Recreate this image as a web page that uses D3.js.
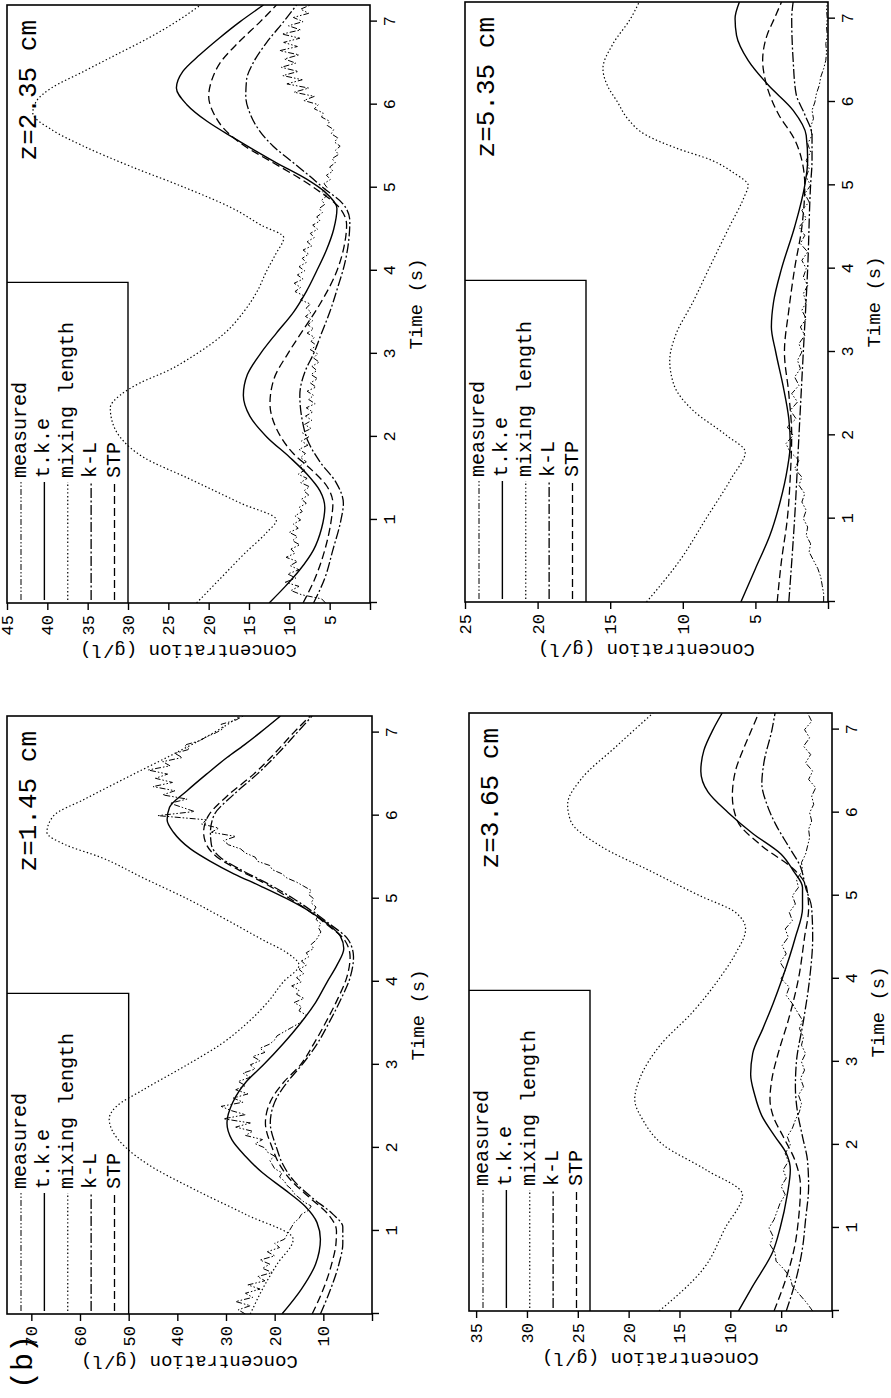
<!DOCTYPE html>
<html>
<head>
<meta charset="utf-8">
<script src="https://cdn.jsdelivr.net/npm/d3@7"></script>
<style>
  html, body { margin: 0; padding: 0; background: #fff; }
  svg { display: block; }
  text { font-family: "Liberation Mono", "Courier New", monospace; fill: #000; }
</style>
</head>
<body>
<svg id="fig" width="891" height="1398"></svg>
<script>
// ---------------------------------------------------------------------------
// Data: concentration (g/l) against time (s) at four heights z.
// Model curves are [time, concentration] pairs; measured records are sampled
// at a fixed time step.
// ---------------------------------------------------------------------------
const timeTicks = [0, 1, 2, 3, 4, 5, 6, 7];
const legendNames = ["measured", "t.k.e", "mixing length", "k-L", "STP"];

// z = 1.45 cm
const tke145 = [[0,18.5],[0.3,14.5],[0.6,11.6],[0.9,10.6],[1.1,11.3],[1.3,13.8],[1.5,18.0],[1.7,22.5],[1.9,26.0],[2.1,28.8],[2.3,29.8],[2.55,28.6],[2.8,25.8],[3.0,22.3],[3.25,18.3],[3.5,14.7],[3.75,11.6],[4.0,9.2],[4.2,7.2],[4.4,5.8],[4.55,6.5],[4.7,9.2],[4.85,12.9],[5.0,17.5],[5.15,22.8],[5.3,28.4],[5.45,33.2],[5.6,37.3],[5.8,40.8],[5.95,42.1],[6.1,41.6],[6.3,38.0],[6.5,34.0],[6.7,29.8],[6.85,26.3],[7.0,23.0],[7.2,18.8]];
const stp145 = [[0,12.3],[0.3,10.0],[0.6,8.3],[0.85,7.4],[1.0,7.3],[1.2,9.0],[1.4,12.8],[1.6,16.5],[1.8,19.0],[2.0,20.5],[2.3,21.9],[2.6,20.5],[2.8,18.0],[3.0,14.7],[3.25,12.0],[3.5,9.6],[3.8,7.0],[4.05,5.2],[4.3,4.5],[4.5,5.6],[4.7,9.5],[4.85,12.9],[5.0,16.8],[5.2,22.5],[5.35,27.5],[5.5,31.8],[5.65,34.0],[5.8,34.6],[6.0,33.6],[6.25,29.5],[6.5,24.3],[6.75,20.0],[7.0,16.1],[7.2,12.7]];
const kl145 = [[0,10.6],[0.3,8.5],[0.6,6.8],[0.85,6.0],[1.05,6.0],[1.2,8.0],[1.4,12.3],[1.6,16.0],[1.8,18.3],[2.0,19.6],[2.3,20.9],[2.6,19.6],[2.8,17.3],[3.0,14.4],[3.25,11.3],[3.5,8.9],[3.8,6.3],[4.05,4.5],[4.3,3.8],[4.5,4.8],[4.7,8.8],[4.85,12.3],[5.0,16.1],[5.2,22.0],[5.35,27.0],[5.5,31.2],[5.65,33.0],[5.8,33.2],[6.0,32.5],[6.25,28.5],[6.5,23.6],[6.75,19.3],[7.0,15.4],[7.2,12.3]];
const ml145 = [[0,25.0],[0.3,22.5],[0.6,19.5],[0.9,16.2],[1.2,26.0],[1.5,36.5],[1.8,46.0],[2.0,50.5],[2.2,53.3],[2.35,54.0],[2.5,52.5],[2.7,47.0],[3.0,38.0],[3.25,31.0],[3.5,25.7],[3.75,21.5],[4.0,18.2],[4.2,15.0],[4.35,17.5],[4.5,22.3],[4.75,30.0],[5.0,38.0],[5.25,47.0],[5.5,55.8],[5.65,63.0],[5.8,66.8],[6.0,65.4],[6.2,59.0],[6.5,49.0],[6.75,40.5],[7.0,32.5],[7.2,27.0]];
const measStep145 = 0.05;
const meas145 = [26.0,27.5,25.0,28.0,24.5,26.0,23.0,25.5,22.0,23.5,20.5,22.5,21.0,23.0,20.0,21.5,19.0,20.0,18.0,17.5,
  17.0,16.5,16.0,15.0,14.5,13.0,12.5,14.0,15.0,16.0,16.5,17.5,18.0,19.0,18.5,20.0,20.5,21.0,20.0,21.5,
  22.0,24.0,22.5,26.0,24.5,28.0,25.0,30.5,26.0,29.0,31.0,26.5,28.5,25.5,28.0,26.0,27.5,25.0,26.5,24.0,
  25.0,23.0,24.5,22.0,23.0,21.0,20.0,19.5,18.0,16.5,15.0,14.0,13.5,15.0,14.5,16.0,14.0,15.5,15.0,16.5,
  14.5,15.5,14.0,15.0,13.5,14.5,13.0,13.5,12.0,12.5,11.5,11.0,10.5,11.0,10.5,11.5,11.0,12.0,11.5,12.5,
  12.0,13.0,12.5,14.0,15.5,17.5,18.5,20.5,21.0,23.5,24.0,26.0,27.0,29.5,30.5,28.0,33.0,31.5,35.0,34.0,
  44.0,36.5,39.0,41.5,38.0,43.0,40.5,45.0,41.0,44.5,42.0,46.0,41.5,43.0,39.0,40.5,37.5,38.5,35.5,34.0,
  32.0,30.5,31.0,28.0,26.5];

// z = 2.35 cm
const tke235 = [[0,12.5],[0.2,10.5],[0.4,8.7],[0.64,7.0],[0.9,6.0],[1.15,5.6],[1.35,6.2],[1.55,7.8],[1.75,9.9],[2.0,12.8],[2.25,14.9],[2.5,15.7],[2.75,15.2],[3.0,13.6],[3.25,11.6],[3.5,9.5],[3.75,7.9],[4.0,6.6],[4.25,5.4],[4.5,4.5],[4.75,4.1],[4.95,5.6],[5.1,7.8],[5.3,11.6],[5.45,14.3],[5.6,16.9],[5.8,20.2],[6.0,22.7],[6.2,24.0],[6.4,23.2],[6.6,21.1],[6.8,18.7],[7.0,16.1],[7.2,13.2]];
const stp235 = [[0,8.3],[0.3,6.8],[0.64,5.6],[1.0,4.8],[1.2,4.6],[1.4,5.3],[1.6,7.2],[1.8,9.5],[2.1,11.6],[2.4,12.4],[2.7,11.9],[3.0,10.2],[3.3,8.2],[3.6,6.2],[4.0,4.1],[4.3,3.2],[4.55,2.9],[4.75,3.7],[4.95,6.2],[5.1,8.5],[5.3,12.0],[5.5,15.5],[5.7,18.0],[5.9,19.4],[6.1,20.0],[6.3,19.6],[6.5,18.6],[6.75,16.3],[7.0,13.6],[7.2,11.6]];
const kl235 = [[0,7.0],[0.3,5.6],[0.64,4.6],[1.0,3.6],[1.2,3.3],[1.45,4.2],[1.7,6.2],[1.95,7.7],[2.2,8.4],[2.5,8.7],[2.8,8.0],[3.0,7.0],[3.25,6.0],[3.5,5.0],[3.8,4.0],[4.1,3.1],[4.4,2.6],[4.6,2.5],[4.8,3.3],[5.0,5.8],[5.15,7.6],[5.3,9.5],[5.5,12.0],[5.7,13.8],[5.9,14.9],[6.1,15.4],[6.3,15.3],[6.5,14.5],[6.75,12.8],[7.0,10.7],[7.2,9.1]];
const ml235 = [[0,21.5],[0.3,18.5],[0.6,15.5],[0.85,12.8],[1.0,11.6],[1.2,16.0],[1.5,22.5],[1.75,28.0],[2.0,31.0],[2.2,32.0],[2.35,32.2],[2.5,31.0],[2.65,28.5],[2.8,25.0],[3.0,21.5],[3.25,18.0],[3.5,15.7],[3.75,14.0],[4.0,12.8],[4.2,11.7],[4.4,10.7],[4.55,13.5],[4.75,17.0],[5.0,22.9],[5.25,29.5],[5.5,35.5],[5.7,39.5],[5.9,41.8],[6.05,41.3],[6.2,39.5],[6.4,35.5],[6.6,31.5],[6.8,27.5],[7.0,24.0],[7.2,21.0]];
const measStep235 = 0.05;
const meas235 = [5.5,6.0,8.5,9.8,8.8,10.5,9.2,10.2,8.8,9.9,9.0,10.4,9.3,9.8,8.7,9.6,9.0,10.0,8.9,9.5,
  8.6,9.3,8.4,8.8,7.9,8.5,7.6,8.2,7.5,8.6,7.8,8.9,8.1,8.7,7.9,8.6,8.0,8.8,7.7,8.5,
  7.6,8.4,7.3,8.1,7.2,8.0,7.1,7.9,6.8,7.6,7.0,7.8,6.7,7.4,6.5,7.3,6.6,7.2,6.3,7.0,
  6.5,7.4,6.6,7.3,6.9,7.8,7.0,7.7,7.1,8.0,7.3,7.9,7.4,8.6,8.2,9.3,8.6,9.4,8.3,9.0,
  8.1,8.8,7.9,8.4,7.6,8.3,7.2,7.8,6.9,7.4,6.5,7.1,6.2,6.6,5.9,6.3,5.6,6.0,5.4,5.9,
  5.3,5.7,4.9,5.4,4.6,5.0,4.3,4.7,3.9,4.3,3.7,4.4,4.0,4.8,4.5,5.3,5.0,6.0,5.8,6.9,
  6.4,8.2,6.9,9.4,7.6,10.3,8.4,10.8,8.9,11.0,9.2,10.6,8.8,11.2,9.0,10.7,8.7,10.9,8.6,10.1,
  8.3,9.5,7.6,8.6,7.4];

// z = 3.65 cm
const tke365 = [[0,9.2],[0.3,7.8],[0.72,5.8],[1.0,5.1],[1.4,4.4],[1.7,4.1],[1.9,4.5],[2.1,5.6],[2.35,6.9],[2.6,7.6],[2.85,8.0],[3.1,7.8],[3.4,6.8],[3.7,5.8],[4.0,4.9],[4.5,3.6],[4.85,2.9],[5.1,2.9],[5.3,3.8],[5.5,5.0],[5.75,7.8],[6.0,10.2],[6.25,12.2],[6.5,12.9],[6.75,12.6],[7.0,11.7],[7.2,10.8]];
const stp365 = [[0,5.7],[0.4,4.5],[0.76,3.7],[1.1,3.3],[1.5,3.1],[1.8,3.6],[2.1,4.8],[2.35,5.8],[2.55,6.1],[2.8,5.9],[3.1,5.3],[3.5,4.3],[4.0,3.3],[4.5,2.7],[4.85,2.3],[5.1,2.5],[5.3,3.6],[5.6,6.9],[5.9,9.3],[6.2,9.8],[6.5,9.5],[6.8,8.6],[7.0,7.9],[7.2,7.2]];
const kl365 = [[0,4.5],[0.4,3.5],[0.76,2.9],[1.1,2.6],[1.5,2.3],[1.8,2.4],[2.1,2.9],[2.4,3.4],[2.7,3.6],[3.0,3.5],[3.5,2.8],[4.0,2.2],[4.5,1.9],[4.85,2.0],[5.1,2.6],[5.35,3.1],[5.6,4.3],[5.85,5.5],[6.1,6.4],[6.35,6.9],[6.6,6.7],[7.0,5.9],[7.2,5.6]];
const ml365 = [[0,17.0],[0.5,12.7],[1.0,10.5],[1.4,8.8],[1.7,12.4],[2.0,16.6],[2.3,18.6],[2.55,19.4],[2.8,18.9],[3.2,16.9],[3.6,13.7],[4.0,11.1],[4.3,9.5],[4.6,8.5],[4.8,9.5],[5.0,13.0],[5.3,17.9],[5.6,22.8],[5.9,25.7],[6.1,26.0],[6.4,24.7],[6.8,21.2],[7.2,17.6]];
const measStep365 = 0.1;
const meas365 = [1.9,2.5,3.2,3.9,4.1,4.7,5.5,5.6,6.1,5.8,6.2,5.7,5.4,5.1,4.6,5.0,4.5,4.8,4.3,4.6,
  4.1,4.4,3.9,3.6,3.2,3.0,3.3,2.8,3.1,2.7,3.0,2.6,3.0,2.8,3.2,2.9,3.4,3.9,4.5,4.2,
  5.0,4.6,5.1,4.5,4.9,4.3,4.6,3.9,4.2,3.6,3.9,3.3,3.5,2.9,3.0,2.6,2.4,2.2,2.3,2.0,
  2.2,1.8,2.0,1.6,2.3,1.9,2.6,2.1,2.8,2.2,2.7,2.0,2.4];

// z = 5.35 cm
const tke535 = [[0,6.0],[0.4,5.0],[0.8,4.0],[1.2,3.3],[1.6,2.8],[1.9,2.6],[2.2,2.7],[2.6,3.1],[3.0,3.6],[3.3,3.9],[3.6,3.75],[4.0,3.2],[4.5,2.3],[5.0,1.6],[5.3,1.4],[5.6,1.5],[5.9,2.4],[6.2,4.1],[6.5,5.5],[6.8,6.3],[7.0,6.4],[7.2,6.1]];
const stp535 = [[0,3.5],[0.5,3.2],[1.0,2.8],[1.5,2.6],[2.0,2.5],[2.5,2.7],[3.0,3.0],[3.5,2.7],[4.0,2.3],[4.5,1.8],[5.0,1.6],[5.3,1.8],[5.55,2.3],[5.85,3.4],[6.25,4.3],[6.5,4.5],[6.8,4.2],[7.0,3.7],[7.2,3.2]];
const kl535 = [[0,2.7],[1.0,2.3],[2.0,2.0],[3.0,1.7],[4.0,1.4],[5.0,1.2],[5.3,1.1],[5.6,1.1],[5.85,1.6],[6.1,2.2],[6.5,2.4],[7.0,2.5],[7.2,2.4]];
const ml535 = [[0,12.5],[0.5,10.2],[1.0,8.4],[1.5,6.6],[1.8,5.7],[2.0,7.0],[2.3,9.3],[2.6,10.6],[2.9,10.9],[3.2,10.5],[3.6,9.3],[4.0,8.2],[4.5,6.8],[4.85,5.8],[5.0,5.5],[5.15,6.5],[5.3,8.0],[5.45,10.5],[5.6,12.5],[5.8,13.8],[6.0,14.5],[6.2,15.2],[6.4,15.5],[6.7,14.8],[7.0,13.6],[7.2,13.0]];
const measStep535 = 0.1;
const meas535 = [0.3,0.3,0.4,0.5,0.7,1.0,1.3,1.2,1.5,1.4,1.7,1.5,1.8,1.6,2.0,1.8,2.3,2.0,2.6,2.9,
  2.4,2.8,2.2,2.6,2.1,2.5,2.0,2.3,1.9,2.1,1.8,2.0,1.6,1.9,1.5,1.8,1.5,1.7,1.4,1.7,
  1.5,1.8,1.4,1.9,1.6,2.0,1.5,1.8,1.3,1.6,1.2,1.5,1.3,1.5,1.2,1.4,1.1,1.2,1.0,1.1,
  0.9,0.8,0.6,0.5,0.3,0.15,0.1,0.15,0.05,0.1,0.05,0.1,0.05];

// ---------------------------------------------------------------------------
// Layout (page pixels) and styling
// ---------------------------------------------------------------------------
const T_MAX = 7.2;
const panels = [
  { label: "z=2.35 cm", x0: 7,   x1: 370, y0: 5,   y1: 603,  cmax: 45,   concTicks: [0,5,10,15,20,25,30,35,40,45],
    tke: tke235, stp: stp235, kl: kl235, ml: ml235, meas: meas235, step: measStep235 },
  { label: "z=5.35 cm", x0: 465, x1: 828, y0: 2,   y1: 602,  cmax: 25,   concTicks: [0,5,10,15,20,25],
    tke: tke535, stp: stp535, kl: kl535, ml: ml535, meas: meas535, step: measStep535 },
  { label: "z=1.45 cm", x0: 7,   x1: 372, y0: 716, y1: 1314, cmax: 75,   concTicks: [0,10,20,30,40,50,60,70],
    tke: tke145, stp: stp145, kl: kl145, ml: ml145, meas: meas145, step: measStep145, tag: "(b)" },
  { label: "z=3.65 cm", x0: 469, x1: 832, y0: 713, y1: 1311, cmax: 35.7, concTicks: [0,5,10,15,20,25,30,35],
    tke: tke365, stp: stp365, kl: kl365, ml: ml365, meas: meas365, step: measStep365 }
];

const styles = {
  measured: { dash: "6,2,1.5,2,1.5,2", width: 1.0 },
  tke:      { dash: null,              width: 1.4 },
  ml:       { dash: "1.4,2.4",         width: 1.2 },
  kl:       { dash: "10,2.5,2,2.5",    width: 1.3 },
  stp:      { dash: "8,4",             width: 1.3 }
};
const legendStyles = [styles.measured, styles.tke, styles.ml, styles.kl, styles.stp];

const svg = d3.select("#fig");

panels.forEach((p, i) => {
  // Each panel is drawn in a landscape frame (time to the right, concentration up)
  // and then turned a quarter turn counter-clockwise onto the page.
  const W = p.y1 - p.y0;
  const H = p.x1 - p.x0;
  const g = svg.append("g").attr("transform", `translate(${p.x0},${p.y1}) rotate(-90)`);

  const x = d3.scaleLinear().domain([0, T_MAX]).range([0, W]);
  const y = d3.scaleLinear().domain([0, p.cmax]).range([H, 0]);

  const clipId = "clip" + i;
  g.append("clipPath").attr("id", clipId)
    .append("rect").attr("width", W).attr("height", H);

  const plot = g.append("g").attr("clip-path", `url(#${clipId})`);

  const smooth = d3.line().x(d => x(d[0])).y(d => y(d[1])).curve(d3.curveMonotoneX);
  const raw = d3.line().x((d, k) => x(k * p.step)).y(d => y(d));

  const drawPath = (gen, data, st) => {
    const path = plot.append("path").datum(data)
      .attr("d", gen)
      .attr("fill", "none")
      .attr("stroke", "#000")
      .attr("stroke-width", st.width)
      .attr("stroke-linejoin", "round");
    if (st.dash) path.attr("stroke-dasharray", st.dash);
  };

  drawPath(smooth, p.ml, styles.ml);
  drawPath(raw, p.meas, styles.measured);
  drawPath(smooth, p.kl, styles.kl);
  drawPath(smooth, p.stp, styles.stp);
  drawPath(smooth, p.tke, styles.tke);

  // frame
  g.append("rect").attr("width", W).attr("height", H)
    .attr("fill", "none").attr("stroke", "#000").attr("stroke-width", 1.6);

  // time axis
  const xAxis = g.append("g").attr("transform", `translate(0,${H})`)
    .call(d3.axisBottom(x).tickValues(timeTicks).tickSize(7).tickSizeOuter(0).tickPadding(6)
      .tickFormat(d => d === 0 ? "" : d3.format("d")(d)));
  // concentration axis
  const yAxis = g.append("g")
    .call(d3.axisLeft(y).tickValues(p.concTicks).tickSize(7).tickSizeOuter(0).tickPadding(5)
      .tickFormat(d => d === 0 ? "" : d));
  [xAxis, yAxis].forEach(a => {
    a.select(".domain").remove();
    a.selectAll(".tick line").attr("stroke", "#000").attr("stroke-width", 1.4);
    a.selectAll(".tick text").attr("font-family", "Liberation Mono, monospace").attr("font-size", 17).attr("fill", "#000");
  });

  // axis titles
  g.append("text")
    .attr("x", W / 2).attr("y", H + 52)
    .attr("text-anchor", "middle").attr("font-size", 19)
    .text("Time (s)");
  g.append("text")
    .attr("transform", `translate(-42,${H / 2}) rotate(-90)`)
    .attr("text-anchor", "middle").attr("font-size", 19)
    .text("Concentration (g/l)");

  // height label
  g.append("text")
    .attr("x", W - 15).attr("y", 28.5)
    .attr("text-anchor", "end").attr("font-size", 26)
    .text(p.label);

  // legend box along the upper-left of the landscape frame
  const lw = x(3.86);
  const lh = H / 3;
  g.append("path")
    .attr("d", `M${lw},0V${lh}H0`)
    .attr("fill", "none").attr("stroke", "#000").attr("stroke-width", 1.4);
  const rowY = d3.scaleLinear().domain([0, 4]).range([14, 107.5]);
  legendNames.forEach((name, k) => {
    const st = legendStyles[k];
    const ln = g.append("line")
      .attr("x1", 3).attr("x2", 121)
      .attr("y1", rowY(k)).attr("y2", rowY(k))
      .attr("stroke", "#000").attr("stroke-width", st.width);
    if (st.dash) ln.attr("stroke-dasharray", st.dash);
    g.append("text")
      .attr("x", 125).attr("y", rowY(k) + 5)
      .attr("font-size", 20)
      .text(name);
  });

  if (p.tag) {
    g.append("text")
      .attr("x", -75).attr("y", 25)
      .attr("font-family", "Liberation Sans, Arial, sans-serif")
      .attr("font-size", 30)
      .text(p.tag);
  }
});
</script>
</body>
</html>
